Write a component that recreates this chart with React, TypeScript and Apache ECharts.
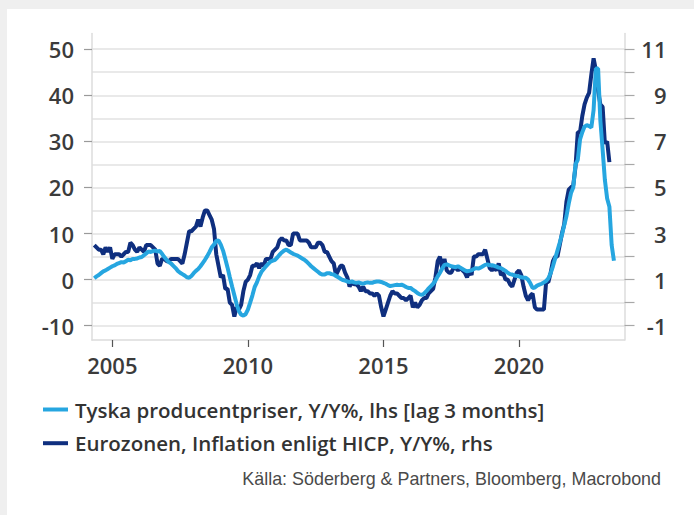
import React, { useEffect, useRef } from 'react';
import * as echarts from 'echarts';

// Eurozone HICP Y/Y %, monthly from May 2004 (right axis)
const hicpStart = { year: 2004, month: 5 };
const hicp = [
  2.5, 2.4, 2.3, 2.3, 2.1, 2.4, 2.2, 2.4,
  1.9, 2.1, 2.1, 2.1, 2.0, 2.1, 2.2, 2.2, 2.6, 2.5, 2.3, 2.2,
  2.4, 2.3, 2.2, 2.5, 2.5, 2.5, 2.4, 2.3, 1.7, 1.6, 1.9, 1.9,
  1.8, 1.8, 1.9, 1.9, 1.9, 1.9, 1.8, 1.7, 2.1, 2.6, 3.1, 3.1,
  3.2, 3.3, 3.6, 3.3, 3.7, 4.0, 4.0, 3.8, 3.6, 3.2, 2.1, 1.6,
  1.1, 1.2, 0.6, 0.6, 0.0, -0.1, -0.6, -0.2, -0.3, -0.1, 0.5, 0.9,
  1.0, 1.2, 1.6, 1.6, 1.7, 1.5, 1.7, 1.6, 1.9, 1.9, 1.9, 2.2,
  2.3, 2.4, 2.7, 2.8, 2.7, 2.7, 2.5, 2.5, 3.0, 3.0, 3.0, 2.7,
  2.7, 2.7, 2.7, 2.6, 2.4, 2.4, 2.4, 2.6, 2.6, 2.5, 2.2, 2.2,
  2.0, 1.8, 1.7, 1.2, 1.4, 1.6, 1.6, 1.3, 1.1, 0.7, 0.9, 0.8,
  0.8, 0.7, 0.5, 0.7, 0.5, 0.5, 0.4, 0.4, 0.3, 0.4, 0.3, -0.2,
  -0.6, -0.3, 0.0, 0.3, 0.5, 0.4, 0.4, 0.3, 0.2, 0.2, 0.1, 0.2,
  0.3, -0.2, 0.0, -0.2, -0.1, 0.1, 0.2, 0.2, 0.4, 0.5, 0.6, 1.1,
  1.8, 2.0, 1.5, 1.9, 1.4, 1.3, 1.3, 1.5, 1.5, 1.4, 1.5, 1.4,
  1.3, 1.1, 1.4, 1.2, 2.0, 2.0, 2.1, 2.1, 2.1, 2.3, 1.9, 1.5,
  1.4, 1.5, 1.4, 1.7, 1.2, 1.3, 1.0, 1.0, 0.8, 0.7, 1.0, 1.3,
  1.4, 1.2, 0.7, 0.3, 0.1, 0.3, 0.4, -0.2, -0.3, -0.3, -0.3, -0.3,
  0.9, 0.9, 1.3, 1.8, 2.0, 2.0, 2.5, 3.0, 3.4, 4.4, 4.9, 5.0,
  5.1, 5.9, 7.4, 7.4, 8.1, 8.6, 8.9, 9.1, 9.9, 10.6, 10.1, 9.2,
  8.6, 8.5, 6.9, 7.0, 6.1,
];

// German producer prices Y/Y %, lagged 3 months, monthly from May 2004 (left axis)
const ppiStart = { year: 2004, month: 5 };
const ppiLag3 = [
  0.3, 0.7, 1.0, 1.4, 1.8, 2.0, 2.3, 2.6,
  2.9, 3.1, 3.4, 3.6, 3.8, 3.7, 4.0, 4.3, 4.2, 4.5, 4.5, 4.6,
  4.8, 4.9, 5.3, 5.7, 6.1, 6.0, 6.2, 6.3, 6.1, 6.2, 5.6, 4.9,
  4.3, 3.8, 3.5, 3.0, 2.5, 1.9, 1.5, 1.2, 0.9, 0.5, 0.4, 0.8,
  1.4, 1.9, 2.3, 2.9, 3.6, 4.3, 5.1, 6.0, 7.0, 7.6, 8.4, 8.5,
  7.6, 6.3, 4.5, 2.6, 0.5, -1.5, -3.4, -5.3, -6.8, -7.6, -7.8, -7.5,
  -6.5, -5.0, -3.4, -1.6, -0.6, 0.7, 1.7, 2.3, 2.9, 3.4, 3.9, 4.1,
  4.3, 4.8, 5.4, 5.9, 6.3, 6.5, 6.2, 5.9, 5.6, 5.4, 5.2, 4.9,
  4.6, 4.3, 3.9, 3.4, 2.9, 2.5, 2.1, 1.7, 1.3, 1.1, 1.1, 1.4,
  1.4, 1.2, 1.1, 0.8, 0.5, 0.2, -0.1, -0.2, -0.4, -0.5, -0.4, -0.6,
  -0.7, -0.6, -0.8, -0.9, -0.7, -0.6, -0.7, -0.7, -0.5, -0.4, -0.4, -0.5,
  -0.7, -0.9, -1.2, -1.4, -1.3, -1.2, -1.1, -1.2, -1.1, -1.3, -1.6, -1.8,
  -1.8, -2.2, -2.5, -2.9, -3.2, -3.3, -3.0, -2.5, -1.9, -1.4, -0.9, -0.2,
  0.7, 1.5, 2.4, 3.2, 3.3, 3.1, 2.9, 2.8, 2.7, 2.9, 2.6, 2.3,
  2.0, 1.8, 1.9, 2.0, 2.3, 2.5, 2.4, 2.6, 2.9, 3.2, 3.3, 3.1,
  3.1, 3.0, 2.8, 2.6, 2.5, 2.2, 1.9, 1.5, 1.2, 1.1, 0.9, 0.8,
  0.7, 0.5, 0.4, 0.4, 0.0, -0.8, -1.8, -1.7, -1.3, -1.1, -0.9, -0.6,
  -0.3, 0.3, 1.4, 2.9, 4.6, 6.3, 8.0, 9.8, 11.8, 13.8, 16.5, 18.8,
  20.0, 25.0, 26.0, 30.4, 32.0, 33.2, 33.5, 33.3, 33.0, 36.8, 45.8, 45.8,
  34.5, 28.2, 21.6, 17.6, 15.8, 7.5, 4.1,
];

const yearTicks = [2005, 2010, 2015, 2020];
const leftLabels = [-10, 0, 10, 20, 30, 40, 50];
const rightTicks = [-1, 0, 1, 2, 3, 4, 5, 6, 7, 8, 9, 10, 11];
const rightLabels = [-1, 1, 3, 5, 7, 9, 11];
const seriesNames = [
  'Tyska producentpriser, Y/Y%, lhs [lag 3 months]',
  'Eurozonen, Inflation enligt HICP, Y/Y%, rhs',
];
const sourceText = 'Källa: Söderberg & Partners, Bloomberg, Macrobond';

const toPoints = (start: { year: number; month: number }, vals: number[]) =>
  vals.map((v, i) => [start.year + (start.month - 1 + i) / 12, v]);

const LIGHT = '#26a6e0';
const DARK = '#0f2f7f';
const LABEL_FONT = {
  fontFamily: 'Open Sans',
  fontWeight: 600,
  fontSize: 22,
  color: '#3b3b3b',
};

export default function App() {
  const ref = useRef<HTMLDivElement>(null);

  useEffect(() => {
    if (!ref.current) return;
    const chart = echarts.init(ref.current, undefined, { renderer: 'svg' });
    chart.setOption({
      animation: false,
      backgroundColor: 'transparent',
      grid: { left: 92, right: 69.5, top: 33.5, height: 306.5, containLabel: false },
      legend: {
        orient: 'vertical',
        left: 38,
        top: 394,
        padding: 5,
        icon: 'rect',
        itemWidth: 25,
        itemHeight: 4,
        itemGap: 12.7,
        selectedMode: false,
        data: [seriesNames[0], seriesNames[1]],
        textStyle: {
          fontFamily: 'Open Sans',
          fontWeight: 600,
          fontSize: 20.5,
          lineHeight: 20,
          color: '#333333',
          padding: [0, 0, 0, 2],
        },
      },
      xAxis: {
        type: 'value',
        min: 2004.25,
        max: 2023.89,
        axisLine: { show: true, onZero: false, lineStyle: { color: '#dcdcdc', width: 1.5 } },
        axisTick: { show: true, customValues: yearTicks, length: 7, lineStyle: { color: '#555555', width: 1.2 } },
        axisLabel: { customValues: yearTicks, formatter: (v: number) => String(v), margin: 14, ...LABEL_FONT },
        splitLine: { show: false },
      },
      yAxis: [
        {
          type: 'value',
          min: -13.1,
          max: 53.4,
          position: 'left',
          axisLine: { show: true, onZero: false, lineStyle: { color: '#dcdcdc', width: 1.5 } },
          axisTick: { show: true, customValues: leftLabels, length: 8, lineStyle: { color: '#9a9a9a', width: 1.2 } },
          axisLabel: { customValues: leftLabels, margin: 18, ...LABEL_FONT },
          splitLine: { show: false },
        },
        {
          type: 'value',
          min: -1.62,
          max: 11.68,
          position: 'right',
          axisLine: { show: true, onZero: false, lineStyle: { color: '#dcdcdc', width: 1.5 } },
          axisTick: { show: true, customValues: rightTicks, length: 10, lineStyle: { color: '#a8a8a8', width: 1.2 } },
          axisLabel: { customValues: rightLabels, align: 'right', margin: 42, ...LABEL_FONT },
          splitLine: { show: true, lineStyle: { color: '#e2e2e2', width: 1.5 } },
        },
      ],
      series: [
        {
          name: seriesNames[1],
          type: 'line',
          yAxisIndex: 1,
          data: toPoints(hicpStart, hicp),
          showSymbol: false,
          lineStyle: { color: DARK, width: 4 },
          itemStyle: { color: DARK },
        },
        {
          name: seriesNames[0],
          type: 'line',
          yAxisIndex: 0,
          data: toPoints(ppiStart, ppiLag3),
          showSymbol: false,
          lineStyle: { color: LIGHT, width: 4 },
          itemStyle: { color: LIGHT },
        },
      ],
      graphic: [
        {
          type: 'text',
          x: 661,
          y: 479,
          style: {
            text: sourceText,
            fontFamily: 'Liberation Sans',
            fontSize: 17.9,
            fill: '#4a4a4a',
            align: 'right',
            verticalAlign: 'middle',
            textAlign: 'right',
            textVerticalAlign: 'middle',
          },
        },
      ],
    });
    return () => chart.dispose();
  }, []);

  return (
    <div style={{ position: 'fixed', left: 0, top: 0, width: 694, height: 515, background: '#efefef' }}>
      <div style={{ position: 'absolute', left: 7, top: 9, right: 0, bottom: 0, background: '#ffffff' }} />
      <div ref={ref} style={{ position: 'absolute', left: 0, top: 0, width: 694, height: 515 }} />
    </div>
  );
}
